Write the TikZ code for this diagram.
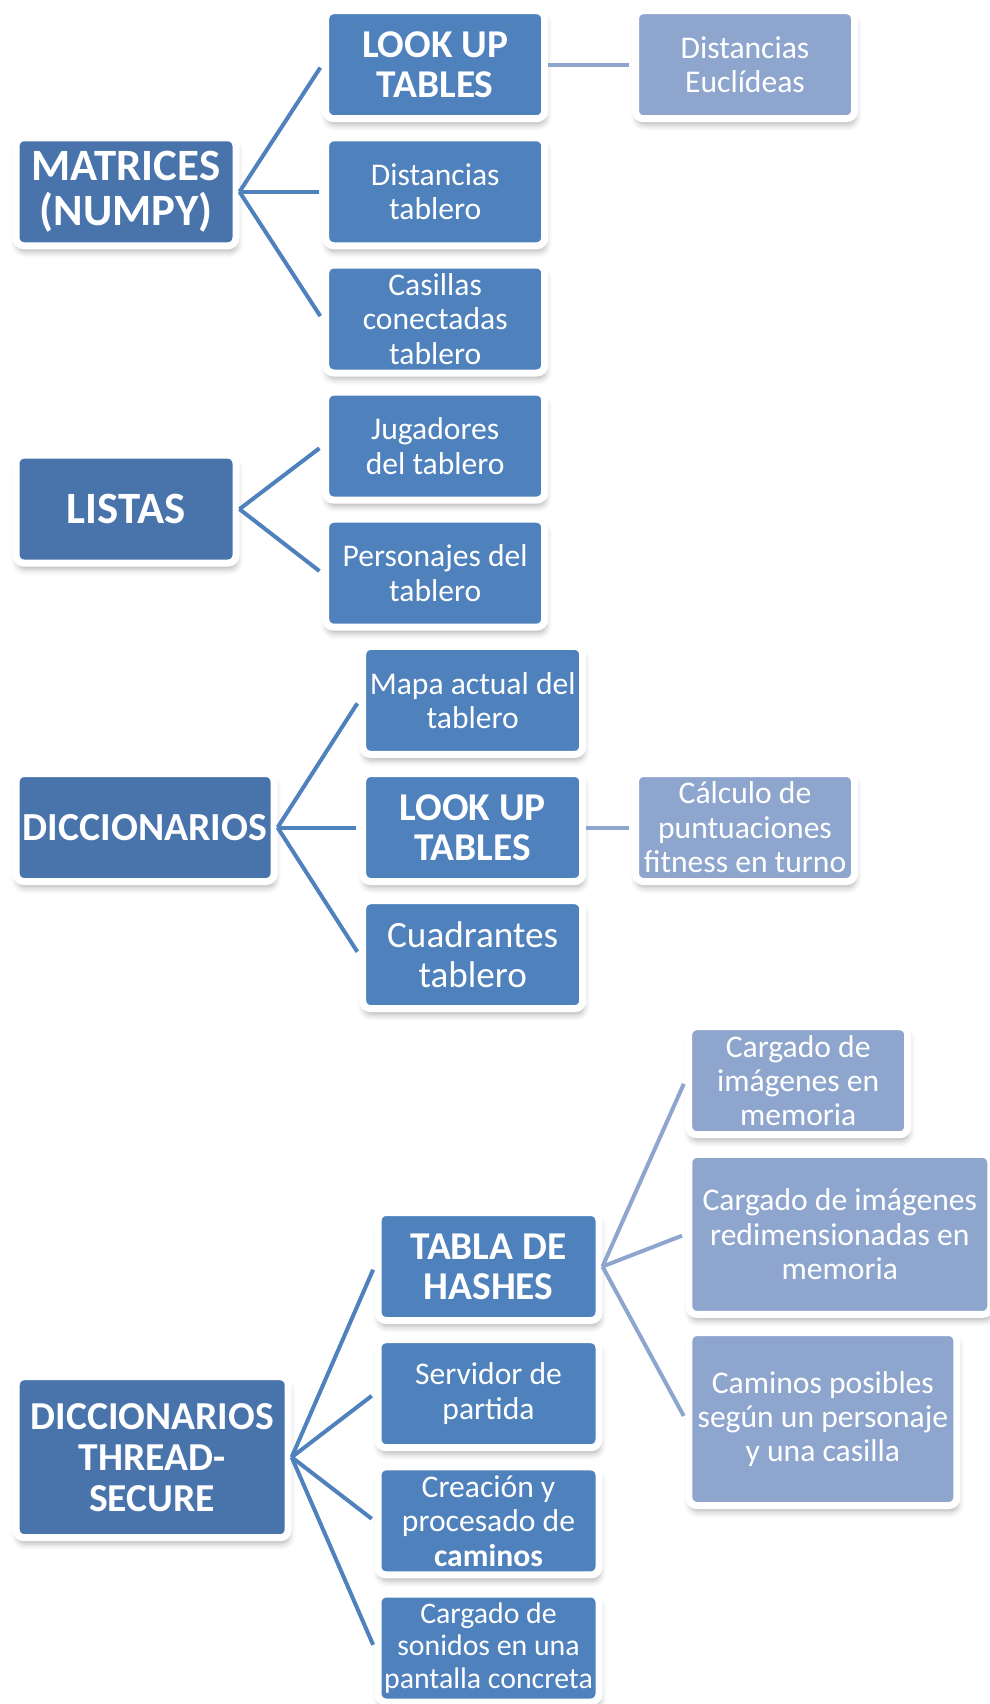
\documentclass[tikz,border=0pt]{standalone}
\usepackage{fontspec}
\setmainfont{Carlito}
\usetikzlibrary{shadows.blur}

\definecolor{rootblue}{RGB}{72,116,171}
\definecolor{boxblue}{RGB}{79,129,189}
\definecolor{lightblue}{RGB}{142,166,206}

\tikzset{
    box/.style={rectangle, rounded corners=4pt, draw=white, line width=3.5pt,
        fill=boxblue, text=white, align=center, inner sep=0pt,
        minimum width=109.5pt, minimum height=54pt,
        blur shadow={shadow xshift=0.6pt, shadow yshift=-3pt, shadow blur radius=3pt, shadow opacity=30},
        font=\fontsize{15.8}{17.2}\selectfont},
    rootbox/.style={box, fill=rootblue, font=\bfseries\fontsize{22.4}{22.8}\selectfont},
    headbox/.style={box, font=\bfseries\fontsize{19.7}{20}\selectfont},
    leafbox/.style={box, fill=lightblue},
    link/.style={boxblue, line width=2pt, shorten >=1.75pt},
    sublink/.style={lightblue, line width=2pt, shorten >=1.75pt}
}

\begin{document}
\begin{tikzpicture}[x=0.5pt, y=-0.5pt]
    % Page area in pixels (990 x 1704)
    \useasboundingbox (0,0) rectangle (990,1704);

    % Matrices (numpy)
    \node[rootbox, minimum width=110pt] (mat) at (126,191.8) {MATRICES\\(NUMPY)};
    \node[headbox] (lut1) at (435.2,64.7) {LOOK UP\\TABLES};
    \node[leafbox] (eucl) at (745,64.7) {Distancias\\Euclídeas};
    \node[box] (disttab) at (435.2,191.8) {Distancias\\tablero};
    \node[box] (cas) at (435.2,319) {Casillas\\conectadas\\tablero};

    % Listas
    \node[rootbox, minimum width=110pt] (lis) at (126,509.1) {LISTAS};
    \node[box] (jug) at (435.2,446.1) {Jugadores\\del tablero};
    \node[box] (pers) at (435.2,573.2) {Personajes del\\tablero};

    % Diccionarios
    \node[rootbox, minimum width=129pt, font=\bfseries\fontsize{19.9}{21.5}\selectfont] (dic) at (145.1,827.5) {DICCIONARIOS};
    \node[box, minimum width=110pt] (mapa) at (472.7,700.4) {Mapa actual del\\tablero};
    \node[headbox, minimum width=110pt] (lut2) at (472.7,827.5) {LOOK UP\\TABLES};
    \node[leafbox] (calc) at (745,827.5) {Cálculo de\\puntuaciones\\fitness en turno};
    \node[box, minimum width=110pt, font=\fontsize{18.6}{19.6}\selectfont] (cuad) at (472.7,954.7) {Cuadrantes\\tablero};

    % Diccionarios thread-secure
    \node[rootbox, minimum width=136pt, minimum height=80.5pt, font=\bfseries\fontsize{19.8}{20.5}\selectfont] (thr) at (152.2,1457.2) {DICCIONARIOS\\THREAD-\\SECURE};
    \node[headbox, minimum width=110.5pt] (hash) at (488.5,1266.5) {TABLA DE\\HASHES};
    \node[box, minimum width=110.5pt] (serv) at (488.5,1393.7) {Servidor de\\partida};
    \node[box, minimum width=110.5pt] (crea) at (488.5,1520.9) {Creación y\\procesado de\\\textbf{caminos}};
    \node[box, minimum width=110.5pt, font=\fontsize{14.9}{16.2}\selectfont] (son) at (488.5,1648) {Cargado de\\sonidos en una\\pantalla concreta};
    \node[leafbox] (img) at (798.2,1080.7) {Cargado de\\imágenes en\\memoria};
    \node[leafbox, minimum width=151pt, minimum height=80pt] (redim) at (839.8,1234.4) {Cargado de imágenes\\redimensionadas en\\memoria};
    \node[leafbox, minimum width=134pt, minimum height=86.5pt] (cam) at (822.9,1419) {Caminos posibles\\según un personaje\\y una casilla};

    % Connectors
    \foreach \c in {lut1,disttab,cas} \draw[link] (mat.east) -- (\c.west);
    \foreach \c in {jug,pers} \draw[link] (lis.east) -- (\c.west);
    \foreach \c in {mapa,lut2,cuad} \draw[link] (dic.east) -- (\c.west);
    \foreach \c in {hash,serv,crea,son} \draw[link] (thr.east) -- (\c.west);
    \draw[sublink] (lut1.east) -- (eucl.west);
    \draw[sublink] (lut2.east) -- (calc.west);
    \foreach \c in {img,redim,cam} \draw[sublink] (hash.east) -- (\c.west);
\end{tikzpicture}
\end{document}
